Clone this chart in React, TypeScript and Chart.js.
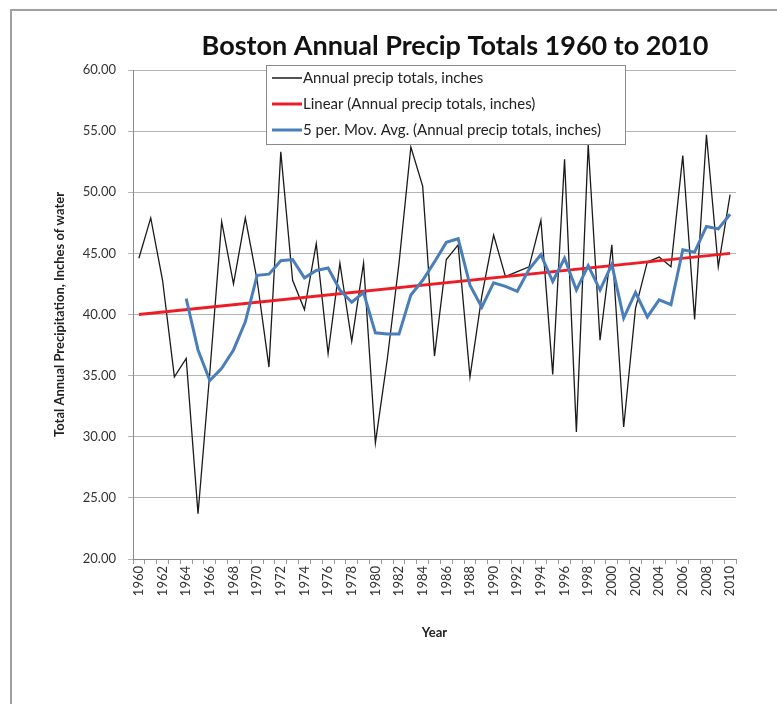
import { useEffect, useRef } from "react";
import { Chart, registerables } from "chart.js";

Chart.register(...registerables);

const years = [
  "1960", "1961", "1962", "1963", "1964", "1965", "1966", "1967", "1968", "1969",
  "1970", "1971", "1972", "1973", "1974", "1975", "1976", "1977", "1978", "1979",
  "1980", "1981", "1982", "1983", "1984", "1985", "1986", "1987", "1988", "1989",
  "1990", "1991", "1992", "1993", "1994", "1995", "1996", "1997", "1998", "1999",
  "2000", "2001", "2002", "2003", "2004", "2005", "2006", "2007", "2008", "2009",
  "2010",
];

const annualPrecip = [
  44.6, 47.9, 42.8, 34.9, 36.4, 23.7, 35.3, 47.6, 42.5, 47.9,
  42.8, 35.7, 53.3, 42.8, 40.4, 45.8, 36.8, 44.2, 37.8, 44.2,
  29.5, 36.3, 44.2, 53.7, 50.5, 36.6, 44.5, 45.7, 34.9, 41.5,
  46.5, 43.1, 43.5, 43.9, 47.7, 35.1, 52.7, 30.4, 53.9, 37.9,
  45.7, 30.8, 40.5, 44.3, 44.7, 43.9, 53.0, 39.6, 54.7, 43.9,
  49.8,
];

const movingAvg = [
  null, null, null, null, 41.3, 37.1, 34.6, 35.6, 37.1, 39.4,
  43.2, 43.3, 44.4, 44.5, 43.0, 43.6, 43.8, 42.0, 41.0, 41.8,
  38.5, 38.4, 38.4, 41.6, 42.8, 44.3, 45.9, 46.2, 42.4, 40.6,
  42.6, 42.3, 41.9, 43.7, 44.9, 42.7, 44.6, 42.0, 44.0, 42.0,
  44.1, 39.7, 41.8, 39.8, 41.2, 40.8, 45.3, 45.1, 47.2, 47.0,
  48.2,
];

const trendYears = ["1960", "2010"];
const trendValues = [40.0, 45.0];

const yTicks = [20, 25, 30, 35, 40, 45, 50, 55, 60];

const seriesLabels = [
  "Annual precip totals, inches",
  "Linear (Annual precip totals, inches)",
  "5 per. Mov. Avg. (Annual precip totals, inches)",
];

const chartTitle = "Boston Annual Precip Totals 1960 to 2010";
const yTitle = "Total Annual Precipitation, Inches of water";
const xTitle = "Year";

const FONT = "Lato, 'Open Sans', 'DejaVu Sans', sans-serif";

const COLORS = {
  annual: "#1a1a1a",
  linear: "#ee1c25",
  avg: "#4a7ebb",
};

export default function App() {
  const canvasRef = useRef<HTMLCanvasElement | null>(null);

  useEffect(() => {
    const canvas = canvasRef.current;
    if (!canvas) return;

    const titlePlugin = {
      id: "customTitle",
      afterDraw(chart: any) {
        const ctx = chart.ctx;
        ctx.save();
        ctx.font = `bold 27px ${FONT}`;
        ctx.fillStyle = "#111";
        ctx.textAlign = "center";
        ctx.textBaseline = "middle";
        ctx.fillText(chartTitle, 455, 46);
        ctx.restore();
      },
    };

    const legendPlugin = {
      id: "boxLegend",
      afterDatasetsDraw(chart: any) {
        const ctx = chart.ctx;
        const left = 266;
        const top = 65;
        const width = 359;
        const height = 79;
        ctx.save();
        ctx.fillStyle = "#ffffff";
        ctx.fillRect(left, top, width, height);
        ctx.strokeStyle = "#8a8a8a";
        ctx.lineWidth = 1;
        ctx.strokeRect(left + 0.5, top + 0.5, width, height);
        const rows = [
          { label: seriesLabels[0], color: COLORS.annual, w: 1.5 },
          { label: seriesLabels[1], color: COLORS.linear, w: 3 },
          { label: seriesLabels[2], color: COLORS.avg, w: 3 },
        ];
        rows.forEach((r, i) => {
          const y = top + 13 + i * 26;
          ctx.strokeStyle = r.color;
          ctx.lineWidth = r.w;
          ctx.beginPath();
          ctx.moveTo(left + 6, y);
          ctx.lineTo(left + 36, y);
          ctx.stroke();
          ctx.fillStyle = "#222";
          ctx.font = `15px ${FONT}`;
          ctx.textAlign = "left";
          ctx.textBaseline = "middle";
          ctx.fillText(r.label, left + 37, y);
        });
        ctx.restore();
      },
    };

    const chart = new Chart(canvas, {
      type: "line",
      data: {
        labels: years,
        datasets: [
          {
            label: seriesLabels[2],
            data: movingAvg,
            borderColor: COLORS.avg,
            backgroundColor: COLORS.avg,
            borderWidth: 3,
            pointRadius: 0,
            tension: 0,
            order: 1,
          },
          {
            label: seriesLabels[1],
            data: trendYears.map((y, i) => ({ x: y, y: trendValues[i] })),
            borderColor: COLORS.linear,
            backgroundColor: COLORS.linear,
            borderWidth: 3,
            pointRadius: 0,
            tension: 0,
            spanGaps: true,
            order: 2,
          },
          {
            label: seriesLabels[0],
            data: annualPrecip,
            borderColor: COLORS.annual,
            backgroundColor: COLORS.annual,
            borderWidth: 1.3,
            pointRadius: 0,
            tension: 0,
            order: 3,
          },
        ],
      },
      options: {
        animation: false,
        responsive: false,
        maintainAspectRatio: false,
        layout: {
          padding: { left: 48, right: 41, top: 70, bottom: 57 },
        },
        plugins: {
          legend: { display: false },
          title: { display: false },
          tooltip: { enabled: false },
        },
        scales: {
          x: {
            type: "category",
            offset: true,
            afterFit(scale: any) {
              scale.height = 88;
            },
            grid: {
              display: true,
              drawOnChartArea: false,
              drawTicks: true,
              tickLength: 5,
              color: "#9a9a9a",
              offset: true,
            },
            border: { display: true, color: "#8a8a8a" },
            ticks: {
              autoSkip: false,
              maxRotation: 90,
              minRotation: 90,
              padding: 2,
              color: "#333",
              font: { family: FONT, size: 13 },
              callback(_v: any, i: number) {
                return i % 2 === 0 ? years[i] : "";
              },
            },
            title: {
              display: true,
              text: xTitle,
              color: "#222",
              font: { family: FONT, size: 13, weight: "bold" },
              padding: { top: 4, bottom: 6 },
            },
          },
          y: {
            min: 20,
            max: 60,
            afterFit(scale: any) {
              scale.width = 85;
            },
            afterBuildTicks(scale: any) {
              scale.ticks = yTicks.map((v) => ({ value: v }));
            },
            grid: {
              color: "#b5b5b5",
              lineWidth: 1,
              drawTicks: true,
              tickLength: 5,
            },
            border: { display: true, color: "#8a8a8a" },
            ticks: {
              padding: 12,
              color: "#333",
              font: { family: FONT, size: 13 },
              callback(v: any) {
                return Number(v).toFixed(2);
              },
            },
            title: {
              display: true,
              text: yTitle,
              color: "#222",
              font: { family: FONT, size: 13, weight: "bold" },
              padding: { top: 4, bottom: 4 },
            },
          },
        },
      },
      plugins: [titlePlugin, legendPlugin],
    });

    return () => {
      chart.destroy();
    };
  }, []);

  return (
    <div
      style={{
        position: "absolute",
        left: 0,
        top: 0,
        width: 777,
        height: 704,
        overflow: "hidden",
        background: "#ffffff",
      }}
    >
      <div
        style={{
          position: "absolute",
          left: 10,
          top: 9,
          width: 900,
          height: 900,
          border: "2px solid #a0a0a0",
          boxShadow: "1px 1px 2px #cfcfcf",
        }}
      />
      <canvas
        ref={canvasRef}
        width={777}
        height={704}
        style={{ position: "absolute", left: 0, top: 0, width: 777, height: 704 }}
      />
    </div>
  );
}
